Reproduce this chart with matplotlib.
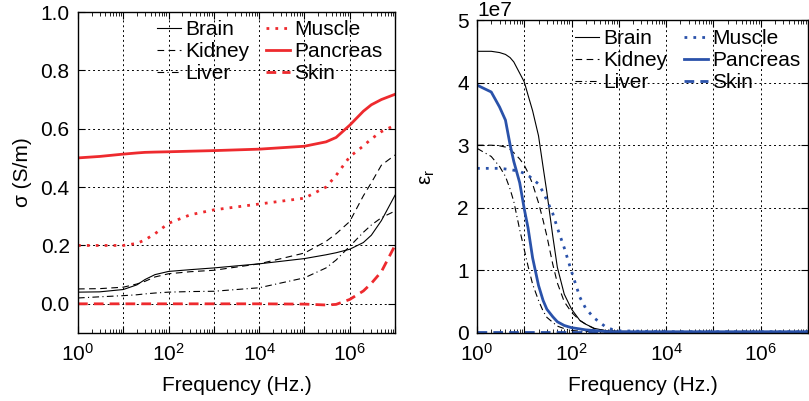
import numpy as np
import matplotlib
matplotlib.use("Agg")
import matplotlib.pyplot as plt
from matplotlib.ticker import LogLocator, NullFormatter, FuncFormatter

plt.rcParams['font.family'] = ['Liberation Sans', 'DejaVu Sans']
plt.rcParams['font.size'] = 15
plt.rcParams['mathtext.fontset'] = 'custom'
plt.rcParams['mathtext.rm'] = 'Liberation Sans'
plt.rcParams['mathtext.it'] = 'Liberation Sans'

RED = '#ee2a2e'
BLUE = '#2a52aa'

tissues = ['Brain', 'Kidney', 'Liver', 'Muscle', 'Pancreas', 'Skin']

# Conductivity sigma (S/m) vs frequency (Hz)
sig_freq = [1, 3, 10, 20, 30, 50, 100, 300, 1e3, 1e4, 1e5, 3e5, 5e5, 1e6, 2e6, 3e6, 5e6, 1e7]
sig_brain = [0.040, 0.041, 0.049, 0.065, 0.083, 0.100, 0.111, 0.117, 0.123, 0.137, 0.155, 0.168, 0.175, 0.187, 0.210, 0.235, 0.285, 0.372]
sig_kidney = [0.051, 0.052, 0.057, 0.068, 0.077, 0.092, 0.103, 0.110, 0.115, 0.137, 0.174, 0.214, 0.240, 0.282, 0.370, 0.415, 0.475, 0.510]
sig_liver = [0.020, 0.024, 0.028, 0.031, 0.034, 0.037, 0.040, 0.042, 0.043, 0.055, 0.089, 0.123, 0.150, 0.197, 0.245, 0.270, 0.295, 0.318]
sig_muscle = [0.200, 0.200, 0.200, 0.207, 0.219, 0.240, 0.276, 0.305, 0.322, 0.342, 0.362, 0.400, 0.440, 0.504, 0.541, 0.565, 0.590, 0.612]
sig_pancreas = [0.500, 0.505, 0.513, 0.517, 0.519, 0.520, 0.521, 0.523, 0.525, 0.530, 0.540, 0.555, 0.570, 0.612, 0.660, 0.682, 0.700, 0.718]
sig_skin = [0.000, 0.000, 0.000, 0.000, 0.000, 0.000, 0.000, 0.000, 0.000, 0.000, -0.001, -0.004, -0.002, 0.015, 0.044, 0.070, 0.110, 0.200]

# Relative permittivity vs frequency (Hz)
eps_freq = [1, 2, 3, 4, 5, 6, 8, 10, 12, 15, 20, 25, 30, 40, 50, 70, 100, 150, 200, 300, 500, 700,
            1e3, 1e4, 1e5, 1e6, 1e7]
eps_brain = [4.50, 4.50, 4.48, 4.45, 4.40, 4.33, 4.15, 4.01, 3.80, 3.55, 3.15, 2.65, 2.25, 1.55, 1.05, 0.62,
             0.38, 0.20, 0.14, 0.075, 0.04, 0.03, 0.025, 0.02, 0.02, 0.02, 0.02]
eps_kidney = [3.00, 3.00, 2.99, 2.97, 2.93, 2.88, 2.78, 2.68, 2.56, 2.38, 2.08, 1.80, 1.55, 1.10, 0.80, 0.50,
              0.33, 0.20, 0.14, 0.07, 0.04, 0.03, 0.025, 0.02, 0.02, 0.02, 0.02]
eps_liver = [2.95, 2.82, 2.66, 2.50, 2.30, 2.10, 1.65, 1.33, 1.07, 0.78, 0.52, 0.35, 0.25, 0.17, 0.11, 0.07,
             0.04, 0.03, 0.025, 0.02, 0.02, 0.02, 0.02, 0.02, 0.02, 0.02, 0.02]
eps_muscle = [2.63, 2.63, 2.63, 2.62, 2.61, 2.60, 2.58, 2.55, 2.52, 2.46, 2.38, 2.25, 2.12, 1.91, 1.68, 1.36,
              0.98, 0.57, 0.39, 0.24, 0.11, 0.06, 0.035, 0.02, 0.02, 0.02, 0.02]
eps_pancreas = [3.96, 3.85, 3.61, 3.40, 3.01, 2.74, 2.40, 1.98, 1.68, 1.20, 0.76, 0.52, 0.38, 0.26, 0.18, 0.12,
                0.085, 0.065, 0.05, 0.04, 0.025, 0.02, 0.02, 0.02, 0.02, 0.02, 0.02]
eps_skin = [0.008] * 27
EPS_SCALE = 1e7


def styles(color):
    return [
        dict(color='black', ls='-', lw=0.8),
        dict(color='black', ls=(0, (6, 4)), lw=0.8),
        dict(color='black', ls=(0, (6, 3, 1, 3)), lw=0.8),
        dict(color=color, ls=(0, (1, 2.2)), lw=2.0),
        dict(color=color, ls='-', lw=2.0),
        dict(color=color, ls=(0, (3.5, 2.2)), lw=2.0),
    ]


def even_decades(v, pos):
    e = int(round(np.log10(v)))
    return r'$\mathdefault{10^{%d}}$' % e if e % 2 == 0 else ''


def style_axes(ax):
    ax.set_xscale('log')
    ax.xaxis.set_major_locator(LogLocator(base=10, numticks=20))
    ax.xaxis.set_major_formatter(FuncFormatter(even_decades))
    ax.xaxis.set_minor_locator(LogLocator(base=10, subs=np.arange(2, 10), numticks=20))
    ax.xaxis.set_minor_formatter(NullFormatter())
    ax.tick_params(which='both', direction='in', top=True, right=True)
    ax.tick_params(which='major', length=5, width=0.8)
    ax.tick_params(which='minor', length=3, width=0.6)
    ax.tick_params(axis='x', which='major', pad=7)
    ax.tick_params(axis='y', which='major', pad=6)
    ax.grid(True, which='major', color='black', ls=(0, (2, 3)), lw=0.7)
    for s in ax.spines.values():
        s.set_linewidth(1.0)
    ax.set_xlabel('Frequency (Hz.)', labelpad=8)


fig = plt.figure(figsize=(8.09, 4.01), dpi=100)
W, H = 809, 401
legend_kw = dict(ncol=2, loc='upper left', frameon=False, borderpad=0, borderaxespad=0,
                 handlelength=1.15, handletextpad=0.2, columnspacing=0.8, labelspacing=0.14)

ax1 = fig.add_axes([78 / W, (H - 333) / H, (395 - 78) / W, (333 - 12) / H])
sig_sets = [sig_brain, sig_kidney, sig_liver, sig_muscle, sig_pancreas, sig_skin]
for name, vals, st in zip(tissues, sig_sets, styles(RED)):
    ax1.plot(sig_freq, vals, label=name, **st)
ax1.set_xlim(1, 1e7)
ax1.set_ylim(-0.1, 1.0)
ax1.set_yticks([0.0, 0.2, 0.4, 0.6, 0.8, 1.0])
ax1.set_yticklabels(['0.0', '0.2', '0.4', '0.6', '0.8', '1.0'])
ax1.set_ylabel('σ (S/m)', labelpad=6)
style_axes(ax1)
ax1.legend(bbox_to_anchor=(157 / W, 1 - 20 / H), bbox_transform=fig.transFigure, **legend_kw)

ax2 = fig.add_axes([477 / W, (H - 333) / H, (808 - 477) / W, (333 - 20) / H])
eps_sets = [eps_brain, eps_kidney, eps_liver, eps_muscle, eps_pancreas, eps_skin]
for name, vals, st in zip(tissues, eps_sets, styles(BLUE)):
    ax2.plot(eps_freq, [v * EPS_SCALE for v in vals], label=name, **st)
ax2.set_xlim(1, 1e7)
ax2.set_ylim(0, 5e7)
ax2.set_yticks([0, 1e7, 2e7, 3e7, 4e7, 5e7])
ax2.set_ylabel(r'$\mathregular{\varepsilon_r}$', labelpad=14)
style_axes(ax2)
ax2.legend(bbox_to_anchor=(575 / W, 1 - 29 / H), bbox_transform=fig.transFigure, **legend_kw)

fig.savefig('out.png', dpi=100)
